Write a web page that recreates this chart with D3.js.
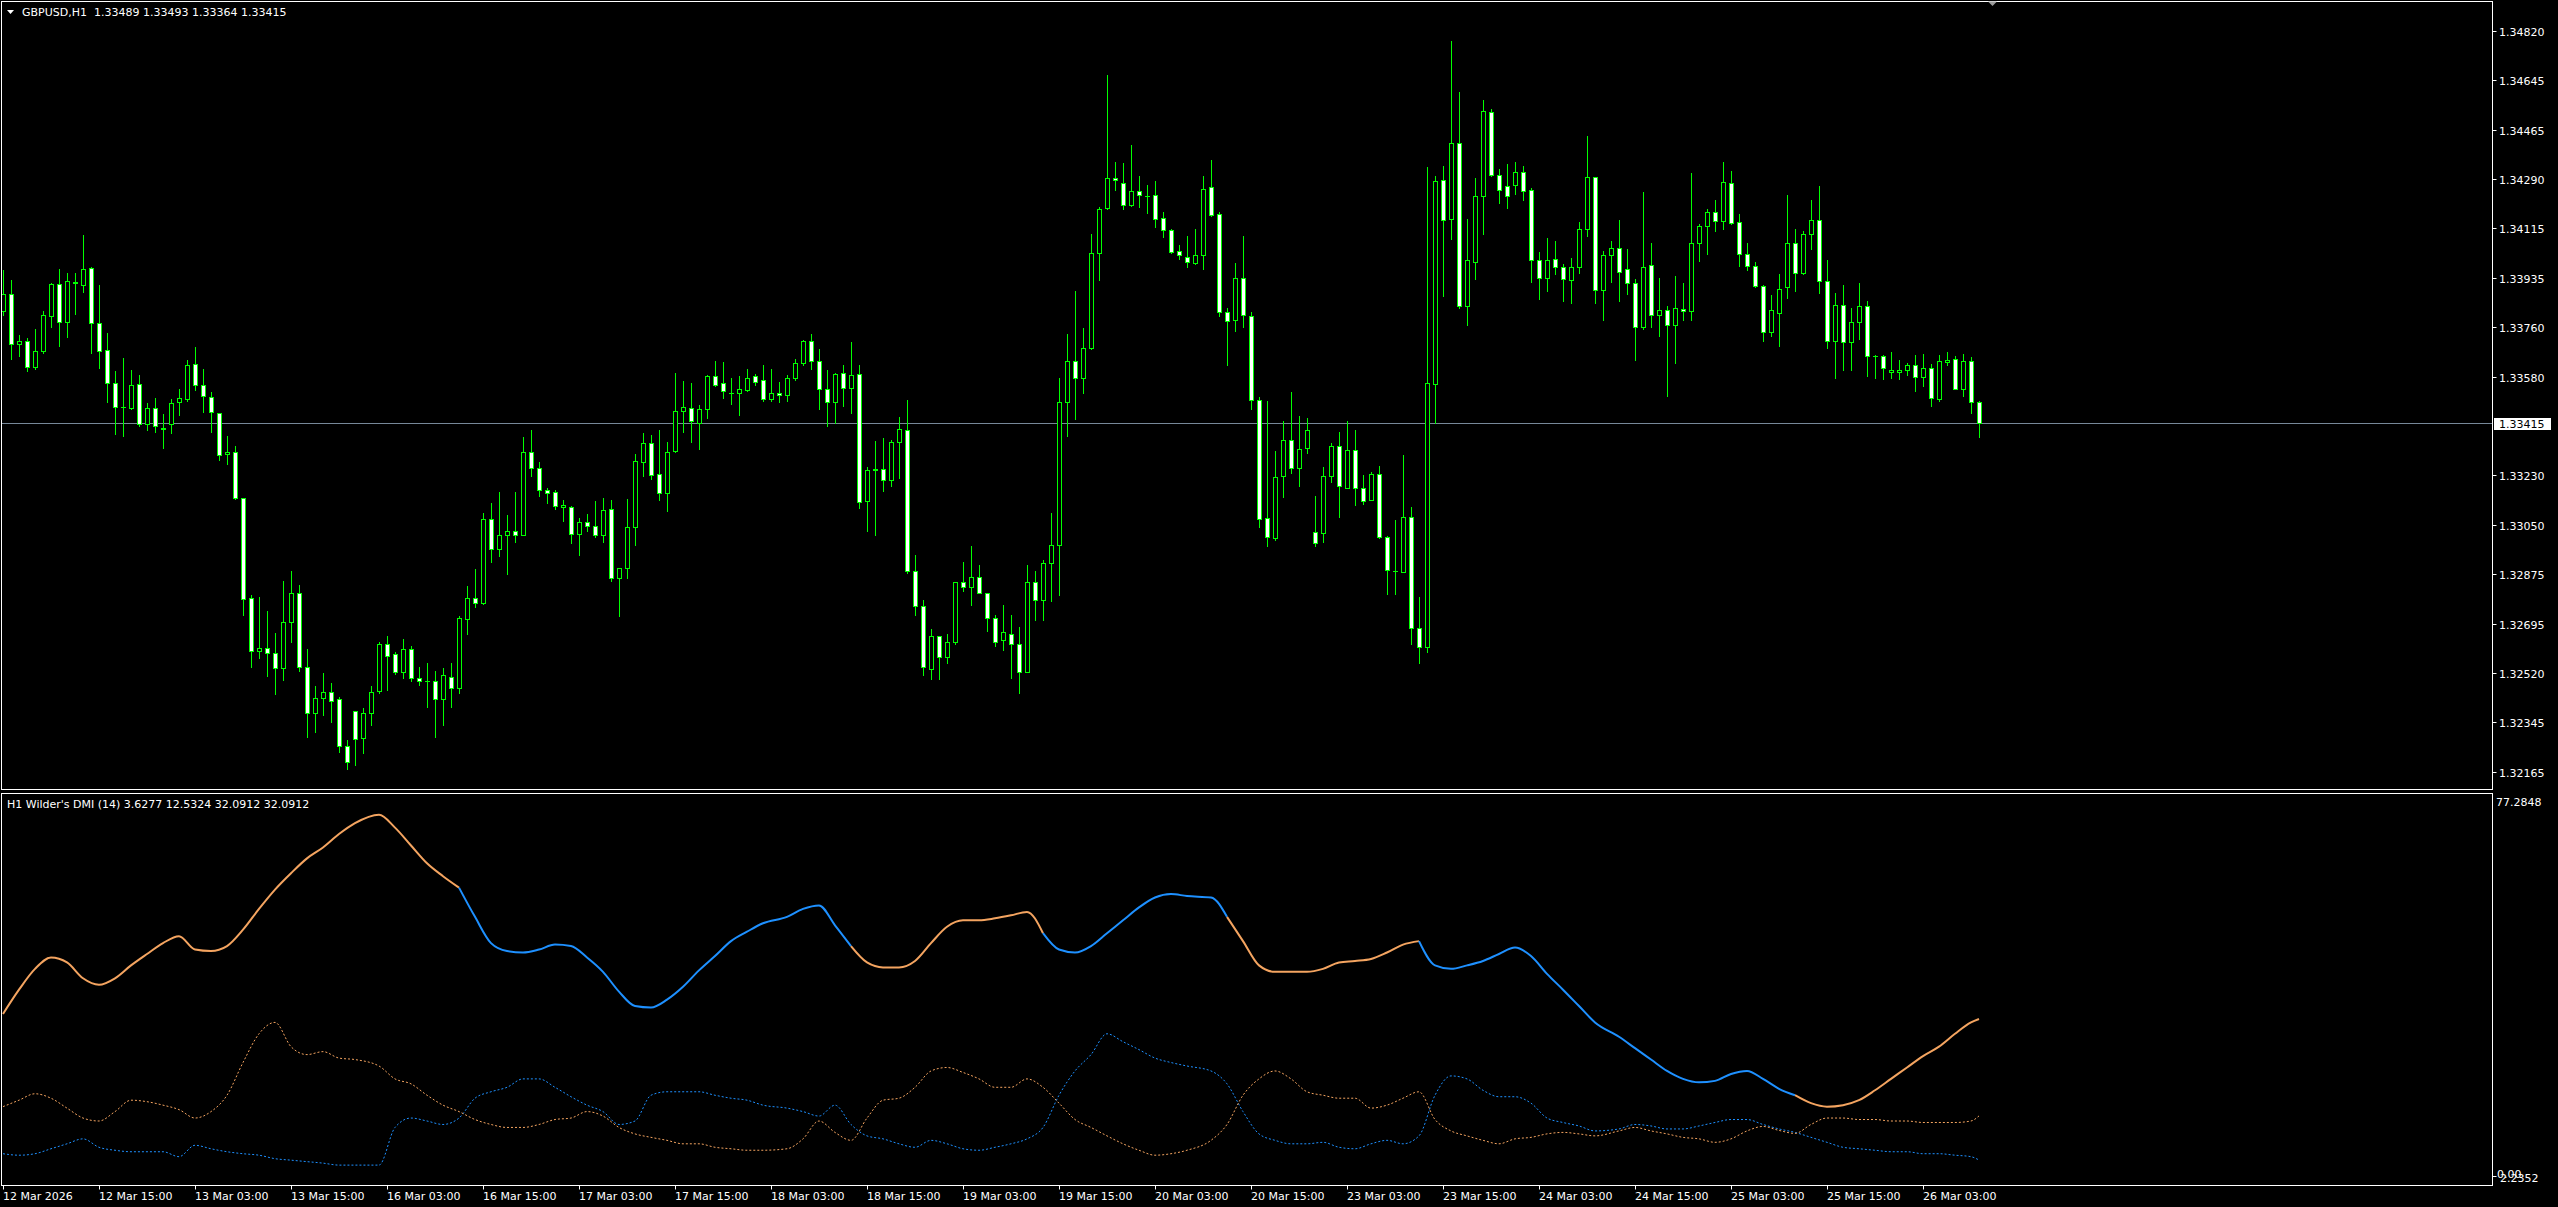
<!DOCTYPE html>
<html><head><meta charset="utf-8">
<script src="https://cdn.jsdelivr.net/npm/d3@7"></script>
<style>html,body{margin:0;padding:0;background:#000;overflow:hidden}</style>
</head><body><svg id="c" width="2558" height="1207"></svg>
<script>
const opens=[1.33816,1.33877,1.33697,1.33711,1.33615,1.33674,1.33800,1.33912,1.33778,1.33921,1.33911,1.33970,1.33772,1.33676,1.33558,1.33472,1.33471,1.33554,1.33413,1.33468,1.33398,1.33413,1.33490,1.33503,1.33626,1.33550,1.33507,1.33450,1.33306,1.33313,1.33146,1.32790,1.32600,1.32611,1.32590,1.32536,1.32704,1.32808,1.32540,1.32375,1.32429,1.32452,1.32425,1.32259,1.32382,1.32288,1.32375,1.32456,1.32622,1.32588,1.32524,1.32604,1.32501,1.32492,1.32492,1.32428,1.32507,1.32465,1.32712,1.32787,1.32769,1.33070,1.32965,1.33013,1.33027,1.33013,1.33313,1.33253,1.33174,1.33170,1.33115,1.33116,1.33016,1.33059,1.33048,1.33013,1.33106,1.32859,1.32895,1.33042,1.33276,1.33345,1.33231,1.33164,1.33315,1.33458,1.33470,1.33417,1.33464,1.33583,1.33558,1.33524,1.33524,1.33532,1.33583,1.33568,1.33502,1.33524,1.33517,1.33578,1.33629,1.33711,1.33637,1.33539,1.33492,1.33593,1.33542,1.33590,1.33137,1.33246,1.33249,1.33213,1.33346,1.33390,1.32884,1.32761,1.32533,1.32651,1.32578,1.32632,1.32847,1.32827,1.32862,1.32805,1.32715,1.32639,1.32661,1.32625,1.32522,1.32844,1.32781,1.32913,1.32980,1.33491,1.33637,1.33578,1.33684,1.34024,1.34185,1.34295,1.34274,1.34196,1.34248,1.34229,1.34231,1.34149,1.34106,1.34030,1.34011,1.33989,1.34018,1.34260,1.34163,1.33814,1.33783,1.33934,1.33799,1.33498,1.33074,1.33005,1.33224,1.33356,1.33254,1.33327,1.33024,1.33020,1.33227,1.33334,1.33184,1.33319,1.33183,1.33138,1.33233,1.33006,1.32886,1.32883,1.33079,1.32682,1.32614,1.33554,1.34285,1.34145,1.34419,1.33836,1.33994,1.34228,1.34530,1.34303,1.34263,1.34270,1.34314,1.34251,1.33999,1.33934,1.34002,1.33975,1.33929,1.33976,1.34110,1.34296,1.33893,1.34017,1.34042,1.33967,1.33916,1.33760,1.33982,1.33801,1.33821,1.33768,1.33824,1.33816,1.34062,1.34122,1.34171,1.34140,1.34276,1.34134,1.34020,1.33979,1.33908,1.33741,1.33809,1.33901,1.34062,1.33952,1.34092,1.34142,1.33926,1.33711,1.33840,1.33705,1.33776,1.33833,1.33655,1.33655,1.33599,1.33598,1.33605,1.33622,1.33579,1.33613,1.33500,1.33635,1.33643,1.33539,1.33637,1.33489];
const highs=[1.33964,1.33928,1.33731,1.33720,1.33752,1.33816,1.33918,1.33967,1.33953,1.33953,1.34089,1.33976,1.33910,1.33738,1.33601,1.33649,1.33605,1.33587,1.33486,1.33505,1.33448,1.33503,1.33537,1.33641,1.33687,1.33609,1.33526,1.33452,1.33368,1.33333,1.33146,1.32799,1.32791,1.32741,1.32664,1.32850,1.32885,1.32835,1.32607,1.32472,1.32520,1.32485,1.32433,1.32279,1.32382,1.32396,1.32472,1.32632,1.32652,1.32594,1.32641,1.32616,1.32540,1.32556,1.32526,1.32536,1.32556,1.32725,1.32831,1.32892,1.33093,1.33129,1.33167,1.33086,1.33167,1.33365,1.33390,1.33275,1.33183,1.33174,1.33138,1.33119,1.33074,1.33089,1.33135,1.33146,1.33138,1.32895,1.33143,1.33304,1.33379,1.33372,1.33390,1.33347,1.33594,1.33567,1.33558,1.33480,1.33586,1.33637,1.33634,1.33577,1.33583,1.33609,1.33590,1.33624,1.33609,1.33561,1.33586,1.33644,1.33714,1.33736,1.33681,1.33605,1.33594,1.33622,1.33706,1.33624,1.33258,1.33350,1.33363,1.33356,1.33436,1.33498,1.32942,1.32783,1.32676,1.32654,1.32661,1.32844,1.32917,1.32976,1.32907,1.32808,1.32727,1.32764,1.32727,1.32686,1.32907,1.32884,1.32925,1.33093,1.33578,1.33736,1.33888,1.33755,1.34093,1.34190,1.34662,1.34351,1.34348,1.34412,1.34301,1.34270,1.34283,1.34172,1.34109,1.34055,1.34087,1.34109,1.34299,1.34358,1.34171,1.33827,1.33989,1.34087,1.33814,1.33507,1.33495,1.33315,1.33422,1.33527,1.33441,1.33434,1.33154,1.33258,1.33344,1.33382,1.33421,1.33391,1.33230,1.33240,1.33263,1.33011,1.33067,1.33301,1.33115,1.32792,1.34334,1.34300,1.34337,1.34784,1.34600,1.34145,1.34293,1.34572,1.34540,1.34326,1.34344,1.34349,1.34338,1.34257,1.34029,1.34077,1.34067,1.33985,1.34006,1.34137,1.34444,1.34296,1.34032,1.34067,1.34142,1.34039,1.33931,1.34243,1.34061,1.33934,1.33833,1.33941,1.33916,1.34311,1.34127,1.34181,1.34216,1.34349,1.34318,1.34165,1.34062,1.33994,1.33911,1.33874,1.33949,1.34232,1.34110,1.34103,1.34213,1.34264,1.34000,1.33881,1.33910,1.33828,1.33917,1.33851,1.33659,1.33659,1.33670,1.33640,1.33632,1.33659,1.33662,1.33628,1.33658,1.33670,1.33655,1.33662,1.33652,1.33493];
const lows=[1.33804,1.33644,1.33656,1.33603,1.33608,1.33667,1.33759,1.33692,1.33723,1.33807,1.33884,1.33667,1.33613,1.33490,1.33377,1.33368,1.33467,1.33403,1.33390,1.33383,1.33326,1.33380,1.33445,1.33495,1.33535,1.33454,1.33383,1.33283,1.33270,1.33142,1.32728,1.32543,1.32575,1.32510,1.32446,1.32495,1.32629,1.32527,1.32291,1.32310,1.32370,1.32343,1.32237,1.32174,1.32191,1.32233,1.32334,1.32449,1.32460,1.32517,1.32502,1.32492,1.32476,1.32398,1.32291,1.32334,1.32398,1.32449,1.32658,1.32757,1.32767,1.32918,1.32940,1.32876,1.32988,1.33013,1.33226,1.33155,1.33128,1.33109,1.33064,1.32987,1.32943,1.33029,1.33006,1.32988,1.32850,1.32725,1.32860,1.32978,1.33226,1.33215,1.33141,1.33100,1.33313,1.33382,1.33349,1.33324,1.33434,1.33549,1.33505,1.33483,1.33444,1.33529,1.33553,1.33495,1.33495,1.33491,1.33495,1.33571,1.33625,1.33609,1.33466,1.33403,1.33415,1.33476,1.33451,1.33112,1.33030,1.33015,1.33173,1.33191,1.33220,1.32878,1.32727,1.32511,1.32500,1.32500,1.32556,1.32622,1.32812,1.32764,1.32805,1.32671,1.32617,1.32603,1.32503,1.32449,1.32522,1.32708,1.32708,1.32778,1.32800,1.33368,1.33429,1.33524,1.33681,1.33929,1.34183,1.34251,1.34183,1.34193,1.34190,1.34168,1.34119,1.34083,1.34024,1.34002,1.33976,1.33985,1.33967,1.34157,1.33798,1.33622,1.33746,1.33758,1.33466,1.33044,1.32976,1.32998,1.33151,1.33236,1.33188,1.33309,1.32973,1.32990,1.33205,1.33078,1.33184,1.33120,1.33124,1.33138,1.33003,1.32803,1.32803,1.32883,1.32625,1.32557,1.32595,1.33414,1.33871,1.34074,1.33828,1.33765,1.33931,1.34092,1.34299,1.34205,1.34187,1.34235,1.34213,1.33922,1.33858,1.33889,1.33949,1.33854,1.33846,1.33954,1.34085,1.33846,1.33786,1.33919,1.33851,1.33877,1.33640,1.33753,1.33760,1.33726,1.33512,1.33632,1.33786,1.33786,1.33997,1.34021,1.34103,1.34110,1.34127,1.33979,1.33964,1.33901,1.33711,1.33726,1.33690,1.33863,1.33889,1.33949,1.34039,1.33881,1.33685,1.33575,1.33605,1.33605,1.33718,1.33584,1.33578,1.33572,1.33578,1.33572,1.33587,1.33531,1.33549,1.33478,1.33494,1.33622,1.33537,1.33512,1.33451,1.33364];
const closes=[1.33877,1.33697,1.33708,1.33615,1.33672,1.33801,1.33912,1.33778,1.33923,1.33916,1.33966,1.33772,1.33674,1.33557,1.33473,1.33472,1.33550,1.33413,1.33471,1.33403,1.33393,1.33486,1.33504,1.33622,1.33550,1.33511,1.33454,1.33302,1.33313,1.33146,1.32786,1.32597,1.32611,1.32590,1.32536,1.32704,1.32805,1.32540,1.32375,1.32429,1.32453,1.32421,1.32259,1.32202,1.32283,1.32375,1.32453,1.32622,1.32581,1.32524,1.32604,1.32501,1.32492,1.32492,1.32428,1.32511,1.32465,1.32716,1.32787,1.32769,1.33070,1.32963,1.33013,1.33027,1.33013,1.33313,1.33253,1.33176,1.33164,1.33119,1.33121,1.33016,1.33059,1.33048,1.33013,1.33102,1.32859,1.32895,1.33042,1.33281,1.33343,1.33230,1.33164,1.33313,1.33458,1.33472,1.33422,1.33464,1.33583,1.33553,1.33529,1.33524,1.33539,1.33578,1.33564,1.33502,1.33524,1.33517,1.33575,1.33629,1.33711,1.33637,1.33539,1.33492,1.33590,1.33542,1.33586,1.33134,1.33246,1.33249,1.33213,1.33346,1.33393,1.32884,1.32761,1.32543,1.32654,1.32578,1.32632,1.32844,1.32827,1.32862,1.32808,1.32715,1.32629,1.32666,1.32622,1.32522,1.32844,1.32783,1.32913,1.32980,1.33491,1.33637,1.33578,1.33684,1.34024,1.34181,1.34295,1.34285,1.34196,1.34245,1.34231,1.34229,1.34146,1.34106,1.34027,1.34017,1.33992,1.34017,1.34255,1.34160,1.33812,1.33780,1.33934,1.33802,1.33499,1.33071,1.33008,1.33221,1.33356,1.33254,1.33324,1.33390,1.32987,1.33224,1.33334,1.33188,1.33319,1.33183,1.33135,1.33233,1.33006,1.32889,1.32886,1.33079,1.32682,1.32614,1.33557,1.34281,1.34142,1.34419,1.33836,1.33999,1.34228,1.34533,1.34303,1.34251,1.34228,1.34314,1.34246,1.33999,1.33934,1.33999,1.33975,1.33931,1.33976,1.34110,1.34296,1.33892,1.34017,1.34042,1.33957,1.33916,1.33760,1.33976,1.33801,1.33821,1.33768,1.33828,1.33816,1.34062,1.34122,1.34172,1.34140,1.34278,1.34133,1.34020,1.33979,1.33908,1.33741,1.33821,1.33896,1.34062,1.33952,1.34092,1.34142,1.33926,1.33708,1.33840,1.33705,1.33776,1.33833,1.33655,1.33655,1.33614,1.33605,1.33605,1.33622,1.33579,1.33613,1.33504,1.33637,1.33640,1.33539,1.33637,1.33489,1.33415];

const priceTicks=[1.34820,1.34645,1.34465,1.34290,1.34115,1.33935,1.33760,1.33580,1.33230,1.33050,1.32875,1.32695,1.32520,1.32345,1.32165];
const bidPrice=1.33415;
const timeLabels=["12 Mar 2026","12 Mar 15:00","13 Mar 03:00","13 Mar 15:00","16 Mar 03:00","16 Mar 15:00","17 Mar 03:00","17 Mar 15:00","18 Mar 03:00","18 Mar 15:00","19 Mar 03:00","19 Mar 15:00","20 Mar 03:00","20 Mar 15:00","23 Mar 03:00","23 Mar 15:00","24 Mar 03:00","24 Mar 15:00","25 Mar 03:00","25 Mar 15:00","26 Mar 03:00"];
const timeLabelBars=[0,12,24,36,48,60,72,84,96,108,120,132,144,156,168,180,192,204,216,228,240];

const dmiBars=[0,2,4,6,8,10,12,14,16,18,20,22,24,26,28,30,32,34,36,38,40,42,44,47,49,51,53,55,57,59,61,63,65,67,69,71,73,75,77,79,81,83,85,87,89,91,93,95,98,100,102,104,106,108,110,112,114,116,118,120,122,124,126,128,130,132,134,136,138,140,142,144,146,148,151,153,155,157,159,161,163,165,167,169,171,173,175,177,179,181,183,185,187,189,191,193,195,197,199,202,204,206,208,210,212,214,216,218,220,222,224,226,228,230,232,234,236,238,240,242,244,246,247];
const adx=[33.1,38.0,42.2,44.5,43.5,40.3,39.0,40.3,42.9,45.2,47.4,48.8,46.1,45.8,46.8,50.1,54.3,58.2,61.5,64.5,66.7,69.4,71.6,73.3,70.7,67.1,63.5,60.9,58.6,52.7,47.4,45.8,45.5,46.1,47.1,46.8,44.5,41.6,37.6,34.7,34.4,36.0,38.6,41.9,44.8,47.8,49.7,51.4,52.7,54.3,55.0,51.0,46.8,43.5,42.5,42.5,43.8,47.4,50.7,52.0,52.0,52.4,53.0,53.7,49.4,46.1,45.5,46.8,49.4,52.0,54.6,56.6,57.3,56.9,56.6,52.7,47.8,42.9,41.6,41.6,41.6,42.2,43.5,43.8,44.2,45.5,47.1,47.8,42.9,42.2,42.9,43.8,45.2,46.5,44.8,41.2,38.0,34.7,31.4,28.5,26.2,23.9,21.6,20.0,19.3,19.6,21.0,21.6,20.0,18.0,16.7,15.1,14.4,14.7,15.7,17.7,20.0,22.3,24.6,26.5,29.1,31.4,32.0912];
const plusDI=[4.9,4.6,4.9,5.9,6.9,7.9,6.2,5.6,5.3,5.3,5.3,4.3,6.6,5.9,5.3,4.9,4.6,3.9,3.6,3.3,3.0,2.6,2.6,2.6,10.2,12.1,11.5,10.8,12.1,16.1,17.4,18.3,20.0,20.0,18.3,16.4,14.7,13.4,10.8,11.5,16.7,17.4,17.4,17.4,16.7,16.1,15.7,14.7,14.1,13.4,12.5,14.7,10.8,8.5,7.9,6.9,6.2,7.6,6.9,5.9,5.6,6.2,6.9,7.9,10.2,16.7,21.6,24.9,29.1,27.5,25.9,24.2,23.3,22.6,21.6,19.0,13.4,8.9,7.6,6.9,6.9,7.2,6.2,5.9,6.9,7.6,6.9,8.5,16.7,20.6,20.0,17.7,16.4,16.4,15.1,12.1,11.2,10.5,9.5,9.9,10.8,10.5,9.9,9.9,10.5,11.2,11.8,11.8,10.8,9.9,9.2,8.2,7.2,6.2,5.9,5.6,5.3,5.3,4.9,4.9,4.6,4.3,3.6277];
const minusDI=[14.4,15.7,17.0,16.1,14.1,12.1,11.5,13.4,15.7,15.4,14.7,13.8,12.1,13.4,16.7,23.3,29.1,31.4,26.5,24.9,25.5,24.2,23.9,22.6,20.0,19.0,16.7,14.7,13.4,11.8,10.8,10.2,10.2,10.8,11.8,12.1,13.4,12.5,10.2,8.9,8.2,7.6,6.9,6.9,6.2,5.9,5.6,5.6,5.9,7.9,11.5,9.2,7.6,12.1,15.7,16.1,18.3,21.6,22.3,21.3,20.0,18.3,18.3,20.0,18.3,15.1,11.8,10.2,8.5,6.9,5.6,4.6,4.9,5.6,7.6,10.8,16.7,20.0,21.6,20.0,17.4,16.7,16.1,16.1,14.1,14.7,16.1,17.4,11.8,9.5,8.5,7.6,6.9,7.9,8.2,8.9,9.2,8.9,8.5,9.5,10.2,9.5,8.9,8.2,7.9,7.2,7.9,9.5,10.4,9.6,9.0,10.8,12.1,12.1,11.8,11.8,11.5,11.5,11.2,11.2,11.2,11.5,12.5324];
const dmiMax=77.2848, dmiMin=2.2352;

const svg=d3.select("#c");
const W=2558,H=1207;
const PR=2492.5;
const mainTop=1.5, mainBot=789.5, indTop=793.5, indBot=1185.5;
const FONT="DejaVu Sans";
const GREEN="#00ff00", ORANGE="#f4a460", BLUE="#1e90ff", FG="#ffffff";

svg.append("rect").attr("width",W).attr("height",H).attr("fill","#000");

const x=d3.scaleLinear().domain([0,247]).range([3,1979]);
const y=d3.scaleLinear().domain([1.32165,1.34820]).range([772,31]);
const yi=d3.scaleLinear().domain([0,dmiMax]).range([1178,795]);

const defs=svg.append("defs");
defs.append("clipPath").attr("id","clipMain").append("rect").attr("x",2).attr("y",2).attr("width",PR-2.5).attr("height",787);
defs.append("clipPath").attr("id","clipInd").append("rect").attr("x",2).attr("y",794).attr("width",PR-2.5).attr("height",391);

const gMain=svg.append("g").attr("clip-path","url(#clipMain)");
const by=Math.round(y(bidPrice))+0.5;
gMain.append("line").attr("x1",0).attr("x2",PR).attr("y1",by).attr("y2",by).attr("stroke","#778899").attr("stroke-width",1);

const bars=d3.range(opens.length).map(i=>({i,o:opens[i],h:highs[i],l:lows[i],c:closes[i]}));
const cg=gMain.selectAll("g.k").data(bars).join("g").attr("class","k");
cg.append("line")
  .attr("x1",d=>Math.round(x(d.i))+0.5).attr("x2",d=>Math.round(x(d.i))+0.5)
  .attr("y1",d=>Math.round(y(d.h))).attr("y2",d=>Math.round(y(d.l))+1)
  .attr("stroke",GREEN).attr("stroke-width",1);
cg.each(function(d){
  const g=d3.select(this);
  const cx=Math.round(x(d.i));
  const yo=Math.round(y(d.o)), yc=Math.round(y(d.c));
  const top=Math.min(yo,yc), hh=Math.abs(yo-yc);
  if(hh<1){
    g.append("line").attr("x1",cx-2).attr("x2",cx+3).attr("y1",top+0.5).attr("y2",top+0.5).attr("stroke",GREEN).attr("stroke-width",1);
  } else {
    g.append("rect").attr("x",cx-1.5).attr("y",top+0.5).attr("width",4).attr("height",hh)
      .attr("fill",d.c<d.o?"#ffffff":"#000000").attr("stroke",GREEN).attr("stroke-width",1);
  }
});

const frame=svg.append("g").attr("fill","none").attr("stroke","#ffffff").attr("stroke-width",1);
frame.append("rect").attr("x",1.5).attr("y",mainTop).attr("width",PR-1.5).attr("height",mainBot-mainTop);
frame.append("rect").attr("x",1.5).attr("y",indTop).attr("width",PR-1.5).attr("height",indBot-indTop);

const ax=svg.append("g").attr("font-family",FONT).attr("font-size",11).attr("fill",FG);
priceTicks.forEach(p=>{
  const yy=Math.round(y(p))+0.5;
  ax.append("line").attr("x1",PR).attr("x2",PR+4).attr("y1",yy).attr("y2",yy).attr("stroke",FG);
  ax.append("text").attr("x",2499).attr("y",yy+4).text(p.toFixed(5));
});
ax.append("rect").attr("x",2494).attr("y",by-5.5).attr("width",57).attr("height",12).attr("fill","#ffffff");
ax.append("text").attr("x",2499).attr("y",by+4).attr("fill","#000").text(bidPrice.toFixed(5));

svg.append("path").attr("d","M7,10 L14,10 L10.5,14 Z").attr("fill","#fff");
svg.append("text").attr("x",22).attr("y",16).attr("font-family",FONT).attr("font-size",11).attr("fill",FG)
  .attr("xml:space","preserve").text("GBPUSD,H1  "+[opens[247],highs[247],lows[247],closes[247]].map(v=>v.toFixed(5)).join(" "));
svg.append("path").attr("d","M1988,1.5 L1997,1.5 L1992.5,6 Z").attr("fill","#9a9a9a");

const tx=svg.append("g").attr("font-family",FONT).attr("font-size",11).attr("fill",FG);
timeLabelBars.forEach((b,k)=>{
  const xx=Math.round(x(b))+0.5;
  tx.append("line").attr("x1",xx).attr("x2",xx).attr("y1",indBot).attr("y2",indBot+4).attr("stroke",FG);
  tx.append("text").attr("x",xx-0.5).attr("y",1200).text(timeLabels[k]);
});

const gInd=svg.append("g").attr("clip-path","url(#clipInd)");
const pts=dmiBars.map((b,k)=>({b,adx:adx[k],p:plusDI[k],m:minusDI[k]}));
const lineP=d3.line().x(d=>x(d.b)).y(d=>yi(d.p)).curve(d3.curveMonotoneX);
const lineM=d3.line().x(d=>x(d.b)).y(d=>yi(d.m)).curve(d3.curveMonotoneX);
gInd.append("path").attr("d",lineP(pts)).attr("fill","none").attr("stroke",BLUE).attr("stroke-width",1).attr("stroke-dasharray","2,2");
gInd.append("path").attr("d",lineM(pts)).attr("fill","none").attr("stroke",ORANGE).attr("stroke-width",1).attr("stroke-dasharray","2,2");
const lineA=d3.line().x(d=>x(d.b)).y(d=>yi(d.adx)).curve(d3.curveMonotoneX);
let runs=[],cur=null;
pts.forEach((d,k)=>{
  const up=d.p>d.m;
  if(!cur||cur.up!==up){ cur={up,pts:k>0?[pts[k-1]]:[]}; runs.push(cur); }
  cur.pts.push(d);
});
runs.forEach(r=>{
  gInd.append("path").attr("d",lineA(r.pts)).attr("fill","none").attr("stroke",r.up?BLUE:ORANGE).attr("stroke-width",2).attr("stroke-linejoin","round");
});

const il=svg.append("g").attr("font-family",FONT).attr("font-size",11).attr("fill",FG);
il.append("text").attr("x",7).attr("y",808).text("H1 Wilder's DMI (14) "+[plusDI[plusDI.length-1],minusDI[minusDI.length-1],adx[adx.length-1],adx[adx.length-1]].map(v=>v.toFixed(4)).join(" "));
il.append("text").attr("x",2496).attr("y",806).text(dmiMax.toFixed(4));
il.append("line").attr("x1",PR).attr("x2",PR+4).attr("y1",1176.5).attr("y2",1176.5).attr("stroke",FG);
il.append("text").attr("x",2497).attr("y",1178).text("0.00");
il.append("text").attr("x",2500).attr("y",1182).text(dmiMin.toFixed(4));
</script></body></html>
